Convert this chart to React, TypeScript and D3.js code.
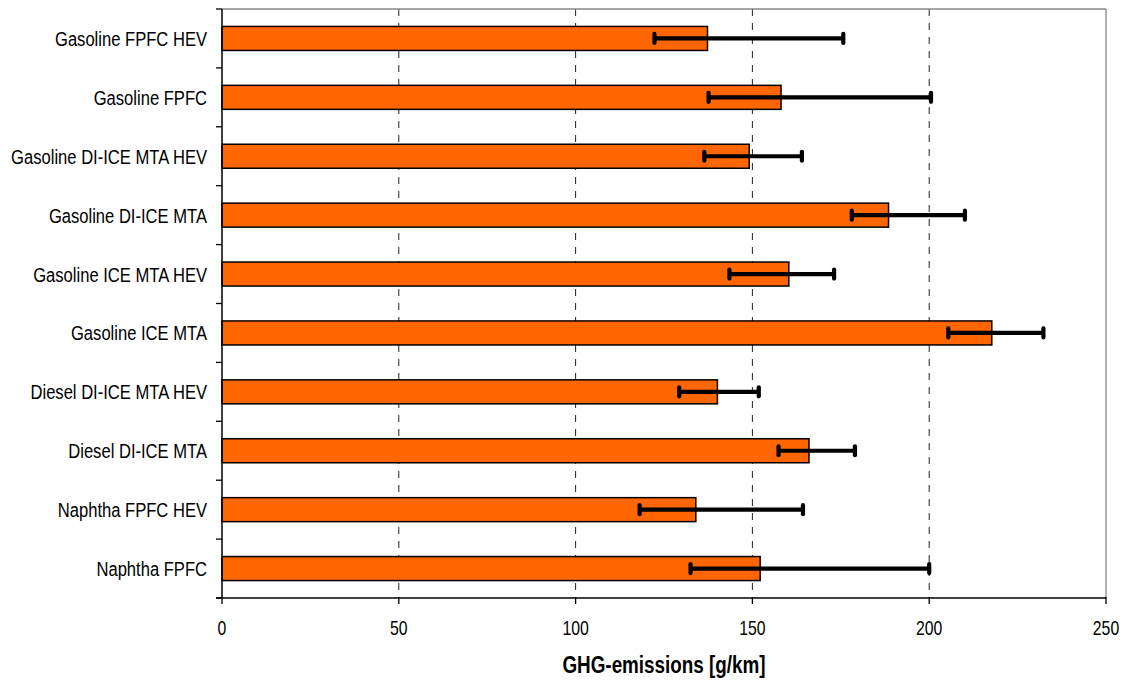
import React from "react";
import * as d3 from "d3";

const categories = [
  "Gasoline FPFC HEV",
  "Gasoline FPFC",
  "Gasoline DI-ICE MTA HEV",
  "Gasoline DI-ICE MTA",
  "Gasoline ICE MTA HEV",
  "Gasoline ICE MTA",
  "Diesel DI-ICE MTA HEV",
  "Diesel DI-ICE MTA",
  "Naphtha FPFC HEV",
  "Naphtha FPFC",
];
const values = [137.3, 158.1, 149.1, 188.5, 160.3, 217.7, 140.1, 166.0, 134.0, 152.2];
const errLow = [122.3, 137.6, 136.4, 178.1, 143.5, 205.4, 129.3, 157.4, 118.1, 132.5];
const errHigh = [175.7, 200.5, 164.0, 210.1, 173.1, 232.3, 151.8, 179.0, 164.3, 200.0];
const xTicks = [0, 50, 100, 150, 200, 250];
const gridTicks = [50, 100, 150, 200];
const xTitle = "GHG-emissions [g/km]";

const W = 1131;
const H = 682;
const left = 222;
const right = 1106;
const top = 9;
const bottom = 598;
const SX = 0.79;
const FONT = "'Liberation Sans', Arial, sans-serif";

export default function App() {
  const x = d3.scaleLinear().domain([0, 250]).range([left, right]);
  const p = 0.5925;
  const y = d3
    .scaleBand<string>()
    .domain(categories)
    .range([top, bottom])
    .paddingInner(p)
    .paddingOuter(p / 2);
  const step = y.step();
  const bw = y.bandwidth();
  const boundaries = categories
    .map((c) => (y(c) as number) - (step - bw) / 2)
    .concat([bottom]);

  return (
    <svg
      width={W}
      height={H}
      style={{ position: "absolute", left: 0, top: 0, background: "#fff" }}
    >
      <rect x={0} y={0} width={W} height={H} fill="#fff" />
      {/* grid lines */}
      {gridTicks.map((t) => (
        <line
          key={"g" + t}
          x1={x(t)}
          x2={x(t)}
          y1={top}
          y2={bottom}
          stroke="#222"
          strokeWidth={1}
          strokeDasharray="7,7"
        />
      ))}
      {/* plot border top/right */}
      <line x1={left} x2={right} y1={top} y2={top} stroke="#888" strokeWidth={1.3} />
      <line x1={right} x2={right} y1={top} y2={bottom} stroke="#888" strokeWidth={1.3} />
      {/* bars */}
      {categories.map((c, i) => (
        <rect
          key={"b" + c}
          x={x(0)}
          y={y(c)}
          width={x(values[i]) - x(0)}
          height={bw}
          fill="#FF6600"
          stroke="#000"
          strokeWidth={1.5}
        />
      ))}
      {/* error bars */}
      {categories.map((c, i) => {
        const cy = (y(c) as number) + bw / 2;
        return (
          <g key={"e" + c}>
            <line
              x1={x(errLow[i])}
              x2={x(errHigh[i])}
              y1={cy}
              y2={cy}
              stroke="#000"
              strokeWidth={4.2}
            />
            {[errLow[i], errHigh[i]].map((v, k) => (
              <line
                key={k}
                x1={x(v)}
                x2={x(v)}
                y1={cy - 4.5}
                y2={cy + 4.5}
                stroke="#000"
                strokeWidth={4.2}
                strokeLinecap="round"
              />
            ))}
          </g>
        );
      })}
      {/* axes */}
      <line x1={left} x2={left} y1={top} y2={bottom} stroke="#000" strokeWidth={1.5} />
      <line x1={left - 6} x2={right} y1={bottom} y2={bottom} stroke="#000" strokeWidth={1.5} />
      {boundaries.map((b, i) => (
        <line key={"yt" + i} x1={left - 6} x2={left} y1={b} y2={b} stroke="#000" strokeWidth={1.3} />
      ))}
      {xTicks.map((t) => (
        <line
          key={"xt" + t}
          x1={x(t)}
          x2={x(t)}
          y1={bottom - 1}
          y2={bottom + 6}
          stroke="#000"
          strokeWidth={1.3}
        />
      ))}
      {/* x tick labels */}
      {xTicks.map((t) => (
        <text
          key={"xl" + t}
          transform={`translate(${x(t)},${635}) scale(${SX},1)`}
          textAnchor="middle"
          fontFamily={FONT}
          fontSize={20}
          fill="#000"
        >
          {t}
        </text>
      ))}
      {/* category labels */}
      {categories.map((c) => (
        <text
          key={"cl" + c}
          transform={`translate(${207},${(y(c) as number) + bw / 2 + 7.5}) scale(${SX},1)`}
          textAnchor="end"
          fontFamily={FONT}
          fontSize={21}
          fill="#000"
        >
          {c}
        </text>
      ))}
      {/* axis title */}
      <text
        transform={`translate(${(left + right) / 2},${673}) scale(0.82,1)`}
        textAnchor="middle"
        fontFamily={FONT}
        fontSize={23}
        fontWeight="bold"
        fill="#000"
      >
        {xTitle}
      </text>
    </svg>
  );
}
